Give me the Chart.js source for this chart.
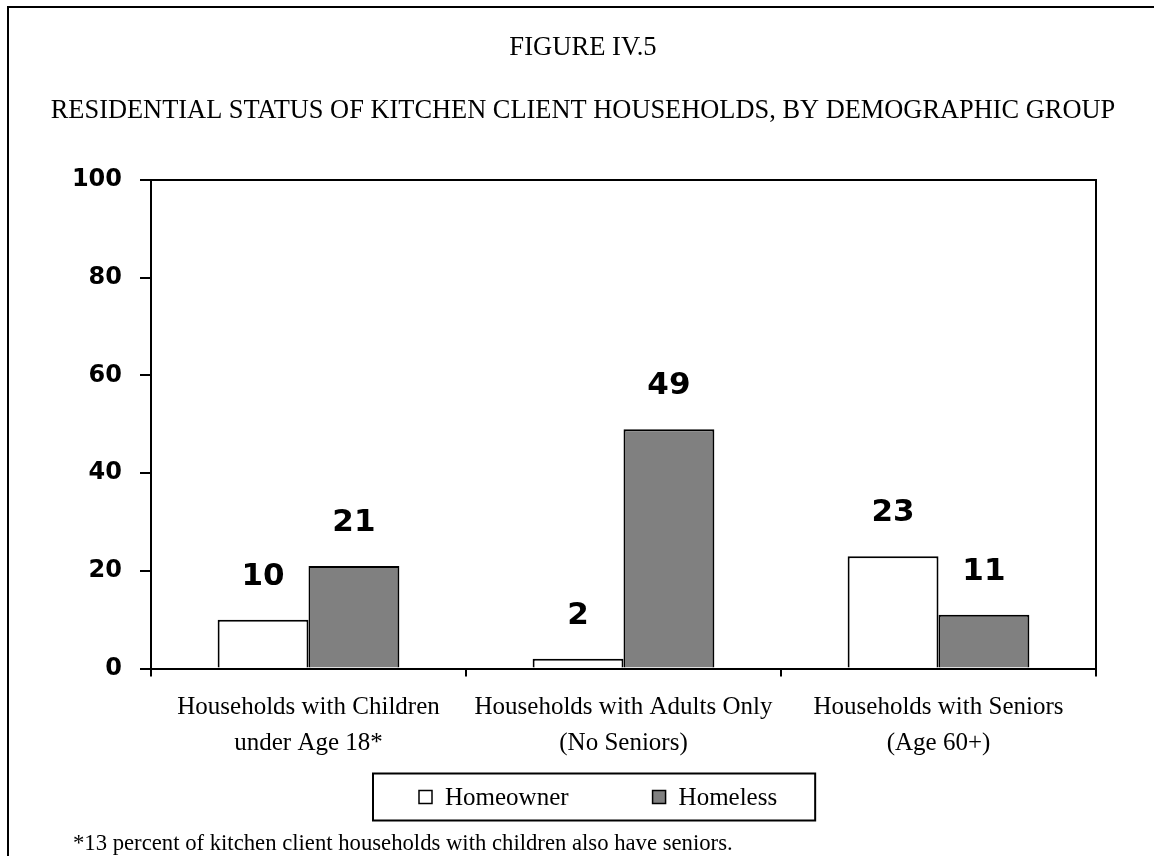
<!DOCTYPE html>
<html>
<head>
<meta charset="utf-8">
<script src="https://cdn.jsdelivr.net/npm/chart.js@4.4.1/dist/chart.umd.min.js"></script>
<style>
  html, body { margin: 0; padding: 0; background: #ffffff; }
  #wrap { position: relative; width: 1154px; height: 856px; }
</style>
</head>
<body>
<div id="wrap"><canvas id="chart" width="1154" height="856"></canvas></div>
<script>
// Residential status of kitchen client households (percent)
const categories = [
  ['Households with Children', 'under Age 18*'],
  ['Households with Adults Only', '(No Seniors)'],
  ['Households with Seniors', '(Age 60+)']
];
const seriesNames = ['Homeowner', 'Homeless'];
const homeowner = [10, 2, 23];
const homeless = [21, 49, 11];
const yMin = 0;
const yMax = 100;
const yStep = 20;

const figureLabel = 'FIGURE IV.5';
const figureTitle = 'RESIDENTIAL STATUS OF KITCHEN CLIENT HOUSEHOLDS, BY DEMOGRAPHIC GROUP';
const footnote = '*13 percent of kitchen client households with children also have seniors.';

const SERIF = '"Liberation Serif", "Times New Roman", serif';
const SANS = '"DejaVu Sans", Arial, sans-serif';

// Plot frame, value labels, boxed legend, figure frame and footnote
const decorations = {
  id: 'decorations',
  afterDatasetsDraw(chart) {
    const ctx = chart.ctx;
    const area = chart.chartArea;
    ctx.save();
    // top and right edges of the plot box
    ctx.strokeStyle = '#000';
    ctx.lineWidth = 2;
    ctx.beginPath();
    ctx.moveTo(area.left, area.top);
    ctx.lineTo(area.right, area.top);
    ctx.lineTo(area.right, area.bottom);
    ctx.stroke();

    // value labels above bars
    ctx.fillStyle = '#000';
    ctx.font = 'bold 31px ' + SANS;
    ctx.textAlign = 'center';
    ctx.textBaseline = 'middle';
    chart.data.datasets.forEach((ds, di) => {
      const meta = chart.getDatasetMeta(di);
      meta.data.forEach((bar, i) => {
        ctx.fillText(String(ds.data[i]), bar.x, bar.y - 43);
      });
    });
    ctx.restore();
  },
  afterDraw(chart) {
    const ctx = chart.ctx;
    const area = chart.chartArea;
    ctx.save();
    ctx.strokeStyle = '#000';
    ctx.lineWidth = 2;
    // figure frame (continues past the page edge on the right and bottom)
    ctx.strokeRect(8, 7, 1200, 900);

    // legend: swatch + series name, in a box
    ctx.font = '25px ' + SERIF;
    ctx.textAlign = 'left';
    ctx.textBaseline = 'middle';
    const cy = area.bottom + 128.5;
    const sw = 13;
    let x = area.left + 268;
    const startX = x;
    chart.data.datasets.forEach((ds, di) => {
      ctx.fillStyle = ds.backgroundColor;
      ctx.fillRect(x, cy - sw / 2, sw, sw);
      ctx.lineWidth = 1.5;
      ctx.strokeStyle = '#000';
      ctx.strokeRect(x, cy - sw / 2, sw, sw);
      ctx.fillStyle = '#000';
      const tx = x + sw + 13;
      ctx.fillText(ds.label, tx, cy + 1);
      x = tx + ctx.measureText(ds.label).width + (di < chart.data.datasets.length - 1 ? 84 : 0);
    });
    ctx.lineWidth = 2;
    ctx.strokeRect(startX - 46, cy - 23.5, (x + 38) - (startX - 46), 47);

    // footnote
    ctx.fillStyle = '#000';
    ctx.font = '22.7px ' + SERIF;
    ctx.fillText(footnote, 73, 844);
    ctx.restore();
  }
};

new Chart(document.getElementById('chart'), {
  type: 'bar',
  data: {
    labels: categories,
    datasets: [
      {
        label: seriesNames[0],
        data: homeowner,
        backgroundColor: '#ffffff',
        borderColor: '#000000',
        borderWidth: 2,
        categoryPercentage: 0.577,
        barPercentage: 1.0
      },
      {
        label: seriesNames[1],
        data: homeless,
        backgroundColor: '#808080',
        borderColor: '#000000',
        borderWidth: 2,
        categoryPercentage: 0.577,
        barPercentage: 1.0
      }
    ]
  },
  options: {
    responsive: false,
    animation: false,
    devicePixelRatio: 1,
    layout: { padding: { left: 12, right: 0, top: 0, bottom: 92.5 } },
    plugins: {
      title: {
        display: true,
        text: figureLabel,
        color: '#000',
        font: { family: SERIF, size: 26.6, weight: 'normal', lineHeight: 1.2 },
        padding: { top: 32, bottom: 31.5 }
      },
      subtitle: {
        display: true,
        text: figureTitle,
        color: '#000',
        font: { family: SERIF, size: 26.4, weight: 'normal', lineHeight: 1.2 },
        padding: { top: 0, bottom: 53 }
      },
      legend: { display: false },
      tooltip: { enabled: false }
    },
    scales: {
      x: {
        grid: {
          display: true,
          offset: true,
          drawOnChartArea: false,
          drawTicks: true,
          tickLength: 8,
          color: '#000',
          lineWidth: 2
        },
        border: { display: true, color: '#000', width: 2 },
        ticks: {
          color: '#000',
          font: { family: SERIF, size: 25, lineHeight: 1.44 },
          padding: 13,
          maxRotation: 0,
          autoSkip: false
        },
        afterFit(scale) { scale.height = 95; }
      },
      y: {
        min: yMin,
        max: yMax,
        grid: {
          display: true,
          drawOnChartArea: false,
          drawTicks: true,
          tickLength: 11,
          color: '#000',
          lineWidth: 2
        },
        border: { display: true, color: '#000', width: 2 },
        ticks: {
          stepSize: yStep,
          color: '#000',
          font: { family: SANS, size: 24, weight: 'bold' },
          padding: 18
        },
        afterFit(scale) { scale.width = 139; }
      },
      // empty margin on the right of the plot box
      yRight: {
        position: 'right',
        display: true,
        grid: { display: false },
        border: { display: false },
        ticks: { display: false },
        afterFit(scale) { scale.width = 58; }
      }
    }
  },
  plugins: [decorations]
});
</script>
</body>
</html>
